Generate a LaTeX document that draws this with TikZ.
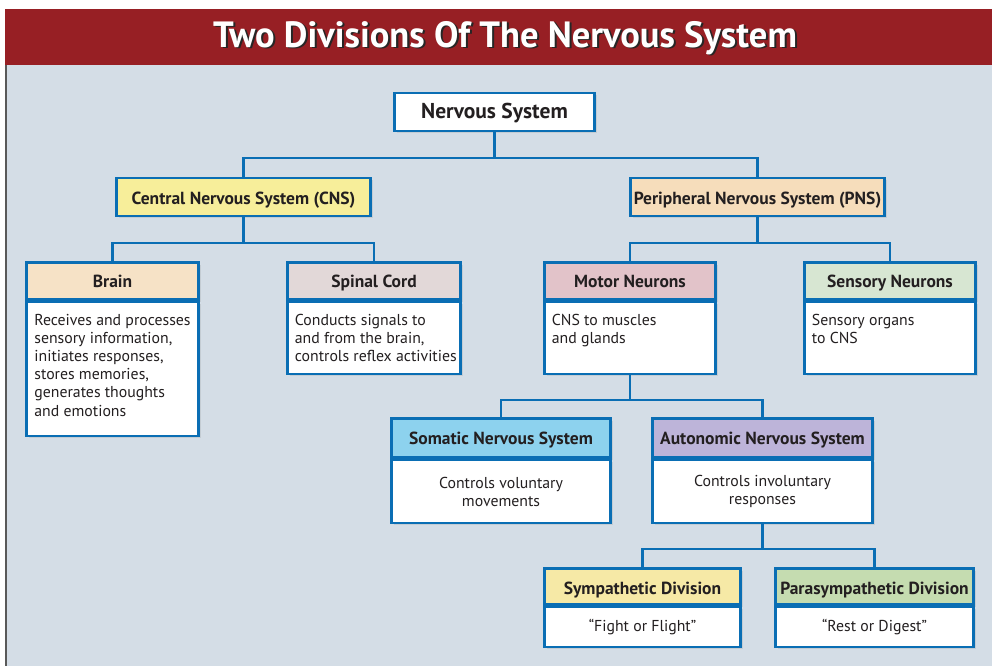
\documentclass[tikz,border=0pt]{standalone}
\usepackage{fontspec}
\setmainfont{PT Sans}
\usepackage{tikz}
\usetikzlibrary{positioning,shadows,calc}
\definecolor{titlered}{HTML}{971F24}
\definecolor{panelbg}{HTML}{D4DDE6}
\definecolor{nsblue}{HTML}{0A6EB4}
\definecolor{inkdark}{HTML}{231F20}
\definecolor{cnsyellow}{HTML}{F7EE9A}
\definecolor{pnspeach}{HTML}{F6DDBB}
\definecolor{brainpeach}{HTML}{F6E2C6}
\definecolor{spinalgrey}{HTML}{E2D8D8}
\definecolor{motorpink}{HTML}{E2C3C9}
\definecolor{sensorygreen}{HTML}{D7E6D2}
\definecolor{somaticblue}{HTML}{8DD2EE}
\definecolor{autonomiclav}{HTML}{BDB4D9}
\definecolor{sympyellow}{HTML}{F6E9A6}
\definecolor{paragreen}{HTML}{C5DCB0}

\begin{document}
\begin{tikzpicture}[x=1pt,y=1pt,yscale=-1,xscale=1,
  box/.style={draw=nsblue, line width=2.6pt, text=inkdark, inner sep=0pt,
    drop shadow={shadow xshift=2pt, shadow yshift=-2pt, opacity=0.18},
    text height=13.6pt, text depth=0pt,
    font=\bfseries\fontsize{17.5}{20}\selectfont},
  head/.style={box, fill=#1, minimum height=37pt},
  bodybox/.style={box, fill=white, align=center, text height=, text depth=,
    font=\fontsize{15.8}{18.2}\selectfont},
  bodytext/.style={anchor=north west, align=left, inner sep=0pt, text=inkdark,
    font=\fontsize{15.8}{18.2}\selectfont},
  link/.style={draw=nsblue, line width=2.6pt}]
\useasboundingbox (0,0) rectangle (992,666);

%Background
\fill[white] (0,0) rectangle (992,666);
\fill[titlered] (5,9) rectangle (992,65);
\fill[panelbg] (5,65) rectangle (992,666);
\draw[black!65, line width=1.5pt] (6,65) -- (6,666);

%Title
\node[anchor=base, text=black!85, font=\bfseries\fontsize{36.5}{40}\selectfont] (titleshadow) at (507,49) {Two Divisions Of The Nervous System};
\node[anchor=base, text=white, font=\bfseries\fontsize{36.5}{40}\selectfont] (title) at (505,47.5) {Two Divisions Of The Nervous System};

%Top level
\node[box, fill=white, minimum width=200pt, minimum height=38pt, font=\bfseries\fontsize{21.5}{24}\selectfont] (ns) at (494.5,112) {Nervous System};
\node[head=cnsyellow, minimum width=254pt, minimum height=38pt, text height=14.6pt] (cns) at (243.5,197) {Central Nervous System (CNS)};
\node[head=pnspeach, minimum width=254pt, minimum height=38pt, text height=14.6pt] (pns) at (757.5,197) {Peripheral Nervous System (PNS)};

%Second level
\node[head=brainpeach, minimum width=172pt] (brain) at (112.5,281) {Brain};
\node[bodybox, minimum width=172pt, minimum height=134pt, below=0pt of brain] (brainbody) {};
\node[bodytext] (braintext) at ($(brainbody.north west)+(9,13)$) {Receives and processes\\sensory information,\\initiates responses,\\stores memories,\\generates thoughts\\and emotions};

\node[head=spinalgrey, minimum width=173pt] (spinal) at (374,281) {Spinal Cord};
\node[bodybox, minimum width=173pt, minimum height=72pt, below=0pt of spinal] (spinalbody) {};
\node[bodytext] (spinaltext) at ($(spinalbody.north west)+(8.5,13)$) {Conducts signals to\\and from the brain,\\controls reflex activities};

\node[head=motorpink, minimum width=171pt] (motor) at (630,281) {Motor Neurons};
\node[bodybox, minimum width=171pt, minimum height=72pt, below=0pt of motor] (motorbody) {};
\node[bodytext] (motortext) at ($(motorbody.north west)+(8.5,13)$) {CNS to muscles\\and glands};

\node[head=sensorygreen, minimum width=171pt] (sensory) at (890,281) {Sensory Neurons};
\node[bodybox, minimum width=171pt, minimum height=72pt, below=0pt of sensory] (sensorybody) {};
\node[bodytext] (sensorytext) at ($(sensorybody.north west)+(8.5,13)$) {Sensory organs\\to CNS};

%Third level
\node[head=somaticblue, minimum width=219pt, minimum height=39pt, text height=12.4pt] (somatic) at (501,438) {Somatic Nervous System};
\node[bodybox, minimum width=219pt, minimum height=63pt, below=0pt of somatic] (somaticbody) {Controls voluntary\\movements};

\node[head=autonomiclav, minimum width=220pt, minimum height=39pt, text height=12.4pt] (autonomic) at (762.5,438) {Autonomic Nervous System};
\node[bodybox, minimum width=220pt, minimum height=63pt, below=0pt of autonomic] (autonomicbody) {Controls involuntary\\responses};

%Fourth level
\node[head=sympyellow, minimum width=196pt, minimum height=36pt, text height=15.4pt] (symp) at (642.5,586.5) {Sympathetic Division};
\node[bodybox, minimum width=196pt, minimum height=40pt, below=0pt of symp] (sympbody) {``Fight or Flight''};

\node[head=paragreen, minimum width=198pt, minimum height=36pt, text height=15.4pt] (para) at (874.5,586.5) {Parasympathetic Division};
\node[bodybox, minimum width=198pt, minimum height=40pt, below=0pt of para] (parabody) {``Rest or Digest''};

%Connectors
\coordinate (nsfork) at (494.5,158);
\coordinate (cnsfork) at (243.5,243);
\coordinate (pnsfork) at (757.5,243);
\coordinate (motorfork) at (630,400);
\coordinate (autofork) at (762.5,549);
\draw[link] (ns.south) -- (nsfork);
\draw[link] (cns.north) |- (nsfork) -| (pns.north);
\draw[link] (cns.south) -- (cnsfork);
\draw[link] (brain.north) |- (cnsfork) -| (spinal.north);
\draw[link] (pns.south) -- (pnsfork);
\draw[link] (motor.north) |- (pnsfork) -| (sensory.north);
\draw[link] (motorbody.south) -- (motorfork);
\draw[link] (somatic.north) |- (motorfork) -| (autonomic.north);
\draw[link] (autonomicbody.south) -- (autofork);
\draw[link] (symp.north) |- (autofork) -| (para.north);

\end{tikzpicture}
\end{document}
